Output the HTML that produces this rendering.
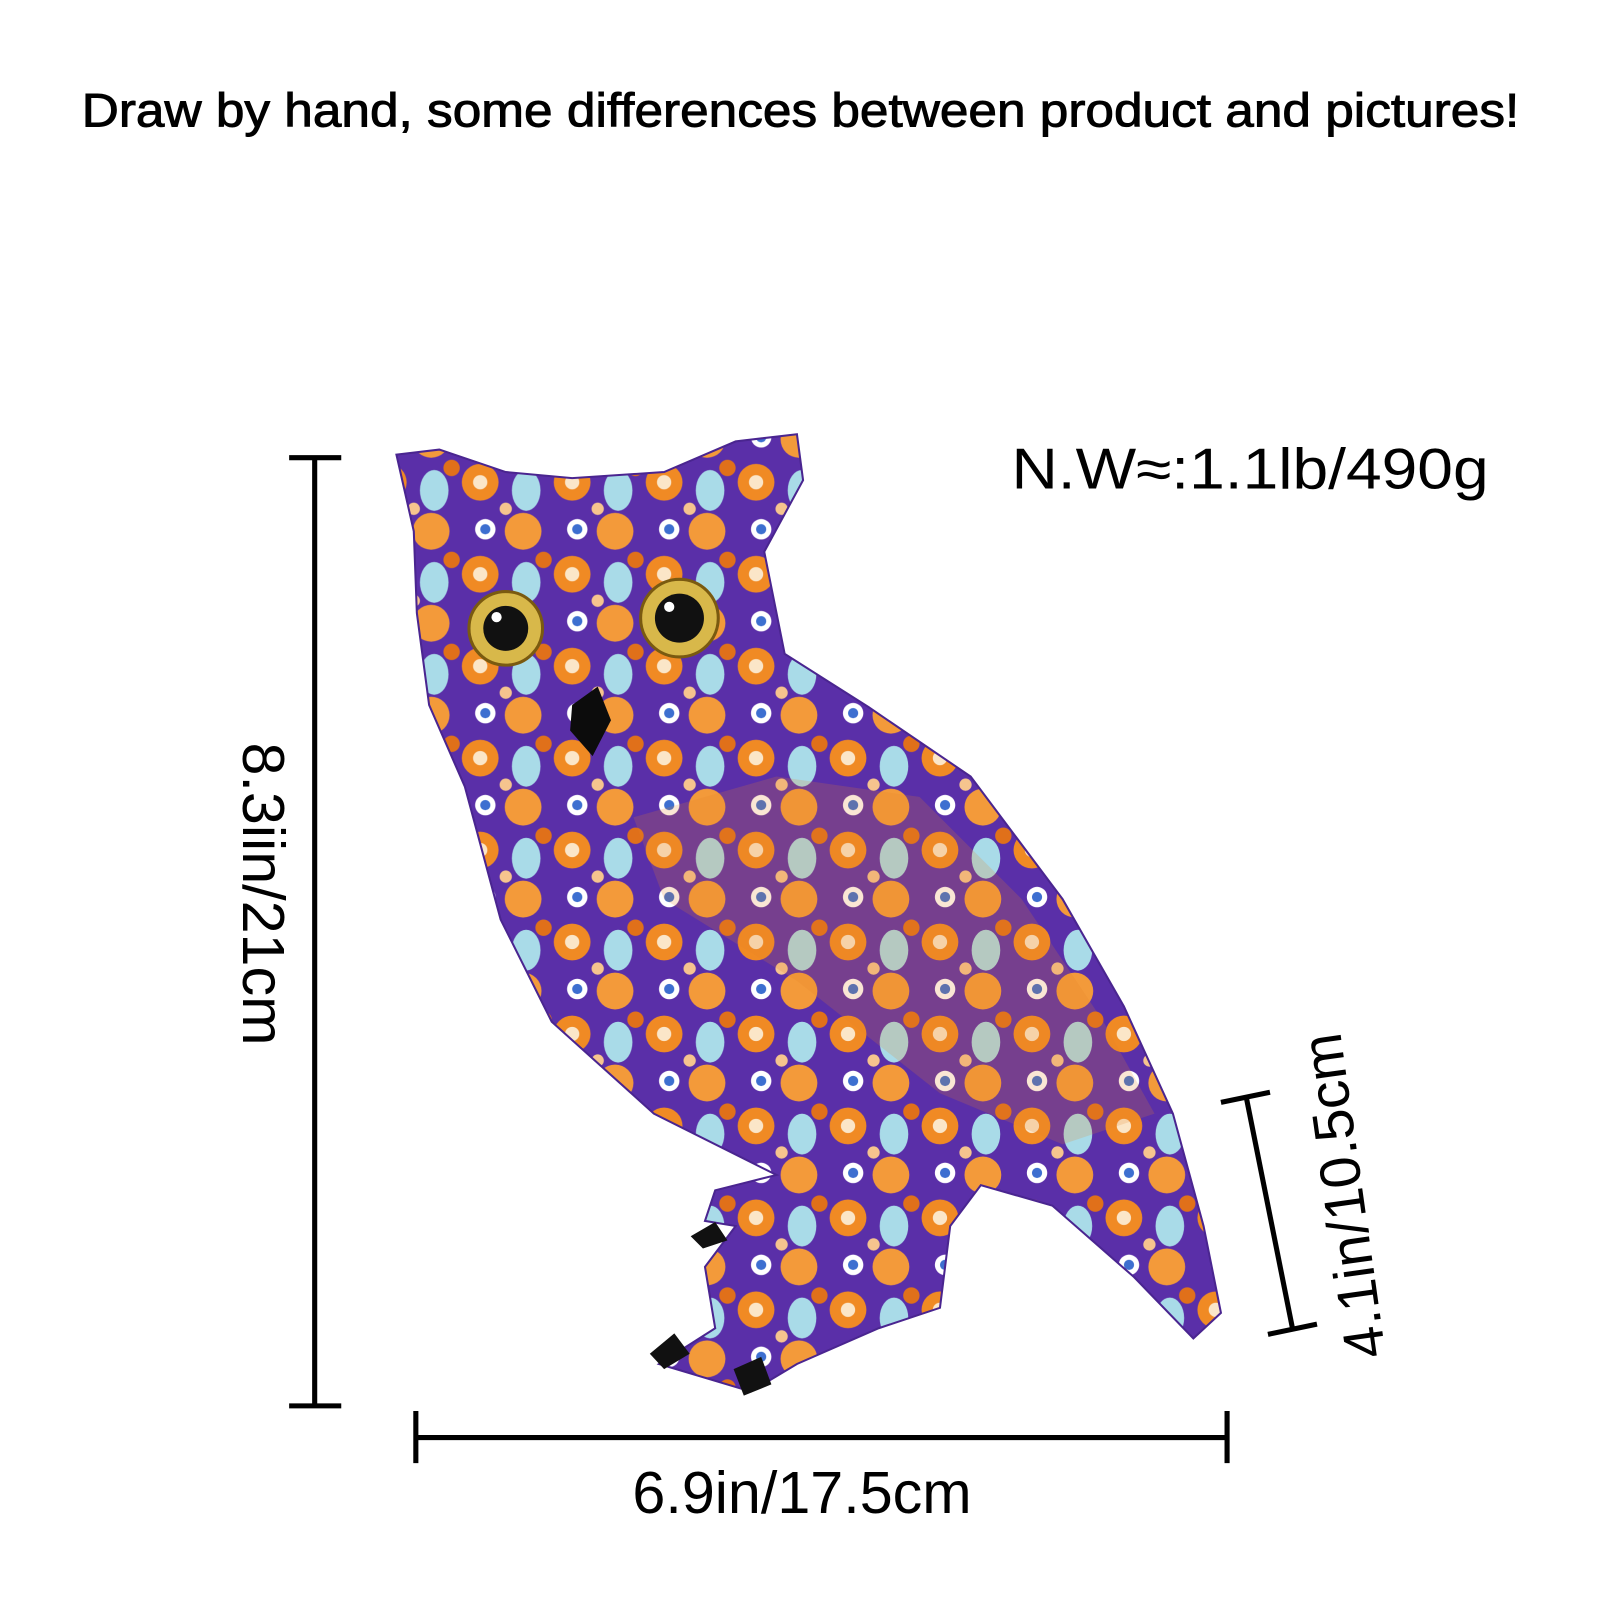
<!DOCTYPE html>
<html><head><meta charset="utf-8"><style>
html,body{margin:0;padding:0;background:#fff;width:1600px;height:1600px;overflow:hidden}
svg{display:block}
text{font-family:"Liberation Sans",sans-serif;fill:#000}
</style></head><body>
<svg width="1600" height="1600" viewBox="0 0 1566 1566" xmlns="http://www.w3.org/2000/svg">
<defs>
<pattern id="pat" width="90" height="90" patternUnits="userSpaceOnUse">
<rect width="90" height="90" fill="#5a2fa8"/>
<circle cx="20" cy="22" r="18" fill="#f08a24"/>
<circle cx="20" cy="22" r="7" fill="#fbe6c8"/>
<ellipse cx="65" cy="30" rx="14" ry="20" fill="#a9dbe8"/>
<circle cx="62" cy="70" r="18" fill="#f39a3a"/>
<circle cx="25" cy="68" r="10" fill="#ffffff"/>
<circle cx="25" cy="68" r="5" fill="#3d6fd0"/>
<circle cx="45" cy="48" r="6" fill="#f6c48e"/>
<circle cx="82" cy="8" r="8" fill="#e0701a"/>
</pattern>
</defs>
<text x="80" y="124" font-size="46" stroke="#000" stroke-width="0.9" textLength="1407" lengthAdjust="spacingAndGlyphs">Draw by hand, some differences between product and pictures!</text>
<text x="990" y="478" font-size="56" textLength="467" lengthAdjust="spacingAndGlyphs">N.W≈:1.1lb/490g</text>

<g stroke="#000" stroke-width="5">
<line x1="308" y1="448" x2="308" y2="1376"/>
<line x1="283" y1="448" x2="334" y2="448"/>
<line x1="283" y1="1376" x2="334" y2="1376"/>
</g>
<text font-size="58" text-anchor="middle" transform="translate(238,875) rotate(90)">8.3iin/21cm</text>

<g stroke="#000" stroke-width="5">
<line x1="407" y1="1407" x2="1201" y2="1407"/>
<line x1="407" y1="1381" x2="407" y2="1432"/>
<line x1="1201" y1="1381" x2="1201" y2="1432"/>
</g>
<text x="785" y="1481" font-size="58" text-anchor="middle">6.9in/17.5cm</text>

<g stroke="#000" stroke-width="5">
<line x1="1220" y1="1075" x2="1265" y2="1300"/>
<line x1="1195" y1="1079" x2="1243" y2="1069"/>
<line x1="1241" y1="1306" x2="1289" y2="1296"/>
</g>
<text font-size="56" text-anchor="middle" transform="translate(1334,1168) rotate(-98)">4.1in/10.5cm</text>

<g>
<path fill="url(#pat)" stroke="#4a2590" stroke-width="2" d="M388,445 L430,440 L495,462 L560,468 L650,462 L720,432 L780,425 L786,470 L748,540 L768,640 L850,692 L950,760 L1040,880 L1100,985 L1148,1090 L1178,1200 L1195,1285 L1168,1310 L1110,1250 L1030,1180 L960,1160 L930,1200 L920,1280 L860,1300 L780,1335 L735,1362 L645,1335 L700,1300 L690,1240 L720,1200 L690,1195 L700,1165 L760,1150 L640,1090 L540,1000 L490,900 L455,770 L420,690 L408,600 L405,520 Z"/>
<path fill="#e8842a" opacity="0.2" d="M620,800 L760,760 L900,780 L1000,880 L1080,1000 L1130,1090 L1040,1120 L920,1070 L780,960 L650,880 Z"/>
<g>
<circle cx="495" cy="615" r="36" fill="#d8b84a" stroke="#7a5a10" stroke-width="3"/>
<circle cx="495" cy="615" r="22" fill="#111"/>
<circle cx="486" cy="604" r="5" fill="#fff"/>
</g>
<g>
<circle cx="665" cy="605" r="38" fill="#d8b84a" stroke="#7a5a10" stroke-width="3"/>
<circle cx="665" cy="605" r="24" fill="#111"/>
<circle cx="655" cy="594" r="5" fill="#fff"/>
</g>
<path fill="#0c0c0c" d="M560,690 L585,672 L598,705 L580,740 L558,715 Z"/>
<g fill="#111">
<path d="M636,1325 L660,1305 L675,1325 L650,1340 Z"/>
<path d="M718,1340 L745,1328 L755,1355 L728,1366 Z"/>
<path d="M676,1210 L700,1196 L712,1214 L688,1222 Z"/>
</g>
</g>
</svg>
</body></html>
